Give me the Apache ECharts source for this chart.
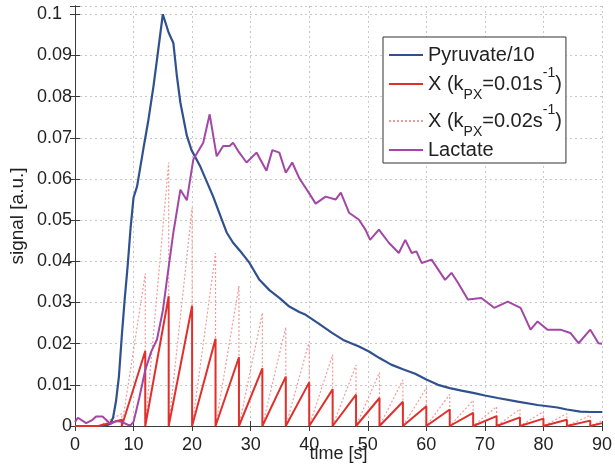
<!DOCTYPE html>
<html>
<head>
<meta charset="utf-8">
<script src="https://cdn.jsdelivr.net/npm/echarts@6/dist/echarts.min.js"></script>
<style>
  html, body { margin: 0; padding: 0; background: #fff; }
  #main { width: 615px; height: 474px; }
</style>
</head>
<body>
<div id="main"></div>
<script>
// pyruvate/10 curve, [time, signal]
var pyruvate = [
    [0,0],[5,0],[6,0.0005],[6.5,0.002],[7,0.006],[7.5,0.012],[8,0.022],[8.5,0.031],[9,0.039],
    [9.5,0.0482],[10,0.0555],[10.6,0.0582],[11.7,0.0675],[12.5,0.074],[13.4,0.0825],[14,0.089],
    [15,0.1],[16,0.0955],[16.8,0.093],[17.4,0.085],[18,0.0785],[19.1,0.0705],[19.9,0.067],
    [21.4,0.063],[23.6,0.0557],[24.7,0.0515],[25.9,0.047],[27,0.0445],[28.5,0.042],[29.8,0.0396],
    [31.5,0.0355],[33.2,0.033],[35,0.031],[36.6,0.029],[38.3,0.0277],[39.4,0.027],[41.5,0.025],
    [43.9,0.0226],[45.8,0.0209],[48.5,0.0193],[50.2,0.0181],[52,0.0165],[54,0.0149],[56,0.0138],
    [58.1,0.0127],[60,0.0113],[62,0.0100],[64,0.0092],[66,0.0086],[68.2,0.0080],[70,0.0074],
    [72.2,0.0068],[75.6,0.0059],[79,0.0051],[82.4,0.0045],[84,0.0040],[86.3,0.0035],[88,0.0034],[90,0.0034]
];

// lactate curve, [time, signal]
var lactate = [
    [0,0.001],[0.5,0.002],[1.9,0.0007],[3,0.0015],[3.6,0.0023],[4.7,0.0023],[6.1,0.0005],[7,0.0012],
    [8,0.001],[9,0.0003],[9.5,0.0002],[10,0.001],[11,0.007],[12,0.0136],[13,0.018],[14,0.021],
    [15,0.028],[15.7,0.0355],[16.8,0.047],[18,0.0574],[19.1,0.0548],[20.2,0.0647],[21.9,0.0688],
    [23,0.0757],[24.2,0.0655],[25.3,0.068],[26.4,0.068],[27,0.0688],[28,0.0665],[29.3,0.064],
    [31,0.0664],[32.7,0.062],[33.7,0.067],[34.9,0.0664],[36,0.0615],[37.1,0.064],[38.3,0.0602],
    [39.4,0.0578],[40,0.0565],[41.1,0.054],[42.8,0.0557],[44.5,0.055],[45.4,0.0567],[46.8,0.0518],
    [48.5,0.0501],[49.6,0.0477],[50.4,0.0452],[51.9,0.0477],[53.6,0.0445],[55.3,0.042],[56.4,0.0452],
    [57.5,0.042],[58.3,0.0424],[59.2,0.0396],[60.9,0.0404],[63.2,0.0355],[64.3,0.0372],[65.4,0.0348],
    [67.1,0.0307],[69.4,0.0311],[71.6,0.0287],[73.9,0.0302],[76.1,0.0287],[77.8,0.0234],[79,0.0254],
    [80.7,0.0234],[82.9,0.0234],[84.6,0.0226],[86,0.0201],[88,0.0234],[89.4,0.0201],[90,0.02]
];

// X signal: builds up between pulses, destroyed at each pulse
var pulseTimes = [8,12,16,20,24,28,32,36,40,44,48,52,56,60,64,68,72,76,80,84,88,90];
var x01Peaks = [0.0015,0.0182,0.0315,0.0292,0.0212,0.0167,0.0140,0.0120,0.0106,0.0089,0.0076,
                0.0068,0.0059,0.0048,0.0040,0.0032,0.0024,0.0021,0.0018,0.0015,0.0013,0.0007];
var x02Peaks = [0.0030,0.0370,0.0640,0.0530,0.0420,0.0340,0.0275,0.0240,0.0205,0.0173,0.0148,
                0.0130,0.0112,0.0092,0.0077,0.0062,0.0047,0.0041,0.0035,0.0030,0.0026,0.0013];

function sawtooth(peaks) {
    var d = [[0, 0], [4, 0]];
    for (var i = 0; i < pulseTimes.length; i++) {
        d.push([pulseTimes[i], peaks[i]]);
        if (i < pulseTimes.length - 1) d.push([pulseTimes[i], 0]);
    }
    return d;
}

var FONT = 'Liberation Sans';
var axisCol = '#3a3a3a';
var txtCol = '#222';

var chart = echarts.init(document.getElementById('main'));
option = {
    animation: false,
    textStyle: { fontFamily: FONT },
    grid: { left: 74, right: 10, top: 6, bottom: 48 },
    legend: {
        left: 383,
        top: 37,
        orient: 'vertical',
        padding: [8, 4, 3, 5],
        itemGap: 1,
        itemWidth: 34,
        itemHeight: 14,
        itemStyle: { opacity: 0 },   // hide the circle marker, keep the line
        backgroundColor: '#fff',
        borderColor: '#333',
        borderWidth: 1,
        borderRadius: 0,
        data: ['Pyruvate/10', 'X1', 'X2', 'Lactate'],
        formatter: function (name) {
            if (name === 'X1') return '{n|X (k}{sub|PX}{n|=0.01s}{sup|-1}{n|)}';
            if (name === 'X2') return '{n|X (k}{sub|PX}{n|=0.02s}{sup|-1}{n|)}';
            return '{p|' + name + '}';
        },
        textStyle: {
            fontFamily: FONT,
            fontSize: 20,
            color: txtCol,
            rich: {
                p: { fontSize: 20, fontFamily: FONT, color: txtCol, lineHeight: 20 },
                n: { fontSize: 20, fontFamily: FONT, color: txtCol, lineHeight: 36 },
                sub: { fontSize: 14, fontFamily: FONT, color: txtCol, lineHeight: 14, padding: [22, 0, 0, 0] },
                sup: { fontSize: 14, fontFamily: FONT, color: txtCol, lineHeight: 14, padding: [0, 0, 22, 0] }
            }
        }
    },
    xAxis: [
        {
            type: 'value',
            min: 0, max: 90, interval: 10,
            name: 'time [s]',
            nameLocation: 'middle',
            nameGap: 19,
            nameMoveOverlap: false,
            nameTextStyle: { fontFamily: FONT, fontSize: 18, color: txtCol },
            axisLine: { show: true, lineStyle: { color: axisCol, width: 1 } },
            axisTick: { show: true, inside: true, length: 5, lineStyle: { color: axisCol } },
            axisLabel: { fontFamily: FONT, fontSize: 18, color: txtCol, margin: 10 },
            splitLine: { show: true, lineStyle: { color: '#c8c8c8', type: [2, 3], width: 1 } }
        },
        {
            type: 'value', position: 'top',
            min: 0, max: 90, interval: 10,
            axisLine: { show: true, lineStyle: { color: axisCol, width: 1 } },
            axisTick: { show: true, inside: true, length: 5, lineStyle: { color: axisCol } },
            axisLabel: { show: false },
            splitLine: { show: false }
        }
    ],
    yAxis: [
        {
            type: 'value',
            min: 0, max: 0.102, interval: 0.01,
            name: 'signal [a.u.]',
            nameLocation: 'middle',
            nameGap: 48,
            nameMoveOverlap: false,
            nameTextStyle: { fontFamily: FONT, fontSize: 19, color: txtCol },
            axisLine: { show: true, lineStyle: { color: axisCol, width: 1 } },
            axisTick: { show: true, inside: true, length: 5, lineStyle: { color: axisCol } },
            axisLabel: {
                fontFamily: FONT, fontSize: 18, color: txtCol, margin: 3,
                formatter: function (v) {
                    var k = Math.round(v * 100);
                    if (Math.abs(v * 100 - k) > 1e-6) return '';
                    if (k === 0) return '0';
                    if (k === 10) return '0.1  ';
                    return (k / 100).toFixed(2);
                }
            },
            splitLine: { show: true, lineStyle: { color: '#c8c8c8', type: [2, 3], width: 1 } }
        },
        {
            type: 'value', position: 'right',
            min: 0, max: 0.102, interval: 0.01,
            axisLine: { show: true, lineStyle: { color: axisCol, width: 1 } },
            axisTick: { show: true, inside: true, length: 5, lineStyle: { color: axisCol } },
            axisLabel: { show: false },
            splitLine: { show: false }
        }
    ],
    series: [
        {
            name: 'Pyruvate/10',
            type: 'line',
            symbol: 'none',
            data: pyruvate,
            lineStyle: { color: '#30508f', width: 2.2 },
            itemStyle: { color: '#30508f' },
            z: 3
        },
        {
            name: 'X1',
            type: 'line',
            symbol: 'none',
            data: sawtooth(x01Peaks),
            lineStyle: { color: '#e0302c', width: 2 },
            itemStyle: { color: '#e0302c' },
            z: 4
        },
        {
            name: 'X2',
            type: 'line',
            symbol: 'none',
            data: sawtooth(x02Peaks),
            lineStyle: { color: '#f29a9a', width: 1.2, type: [2, 2] },
            itemStyle: { color: '#f29a9a' },
            z: 2
        },
        {
            name: 'Lactate',
            type: 'line',
            symbol: 'none',
            data: lactate,
            lineStyle: { color: '#a247a6', width: 2 },
            itemStyle: { color: '#a247a6' },
            z: 5
        }
    ]
};
chart.setOption(option);
</script>
</body>
</html>
